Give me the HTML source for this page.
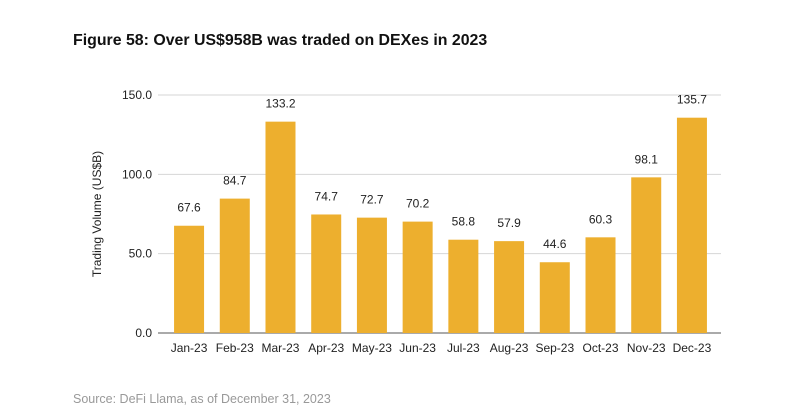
<!DOCTYPE html>
<html><head><meta charset="utf-8"><style>
body{margin:0;background:#fff;font-family:"Liberation Sans",sans-serif;}
#wrap{position:relative;width:796px;height:413px;overflow:hidden;}
#title{position:absolute;left:73px;top:32px;font-size:15.9px;font-weight:bold;color:#111;}
#src{position:absolute;left:73px;top:392px;font-size:12.5px;color:#999;}
</style></head><body>
<div id="wrap">
<div id="title">Figure 58: Over US$958B was traded on DEXes in 2023</div>
<svg id="chart" width="796" height="413" style="position:absolute;left:0;top:0"></svg>
<div id="src">Source: DeFi Llama, as of December 31, 2023</div>
</div>
<script>
const categories=["Jan-23","Feb-23","Mar-23","Apr-23","May-23","Jun-23","Jul-23","Aug-23","Sep-23","Oct-23","Nov-23","Dec-23"];
const values=[67.6,84.7,133.2,74.7,72.7,70.2,58.8,57.9,44.6,60.3,98.1,135.7];
const yTicks=[0,50,100,150];
const NS="http://www.w3.org/2000/svg";
const svg=document.getElementById('chart');
const x0=158,x1=721,b0=166.2,b1=714.8,yTop=95,yBot=333,yMax=150;
const step=(b1-b0)/categories.length;
const bw=30;
function y(v){return yBot-(v/yMax)*(yBot-yTop);}
function xc(i){return b0+step*(i+0.5);}
function mk(t,a,txt){const e=document.createElementNS(NS,t);for(const k in a)e.setAttribute(k,a[k]);if(txt!==undefined)e.textContent=txt;svg.appendChild(e);return e;}
yTicks.forEach(t=>{
 const l=mk('line',{x1:x0,x2:x1,y1:y(t),y2:y(t),stroke:t===0?'#555':'#d6d6d6','stroke-width':1});
 
 
 const tx=mk('text',{x:152,y:y(t)+4,'text-anchor':'end','font-size':12,fill:'#222','font-family':'Liberation Sans'},t.toFixed(1));
 
 
});
values.forEach((v,i)=>{
 const r=mk('rect',{x:xc(i)-bw/2,y:y(v),width:bw,height:yBot-y(v),fill:'#EDAF2E'});
 
 
 const lb=mk('text',{x:xc(i),y:y(v)-14,'text-anchor':'middle','font-size':12,fill:'#222','font-family':'Liberation Sans'},v.toFixed(1));
 
 
 const cl=mk('text',{x:xc(i),y:yBot+19,'text-anchor':'middle','font-size':12,fill:'#222','font-family':'Liberation Sans'},categories[i]);
 
 
});
const yt=mk('text',{x:0,y:0,transform:'translate(101,214) rotate(-90)','text-anchor':'middle','font-size':12,fill:'#222','font-family':'Liberation Sans'},'Trading Volume (US$B)');


</script>
</body></html>
